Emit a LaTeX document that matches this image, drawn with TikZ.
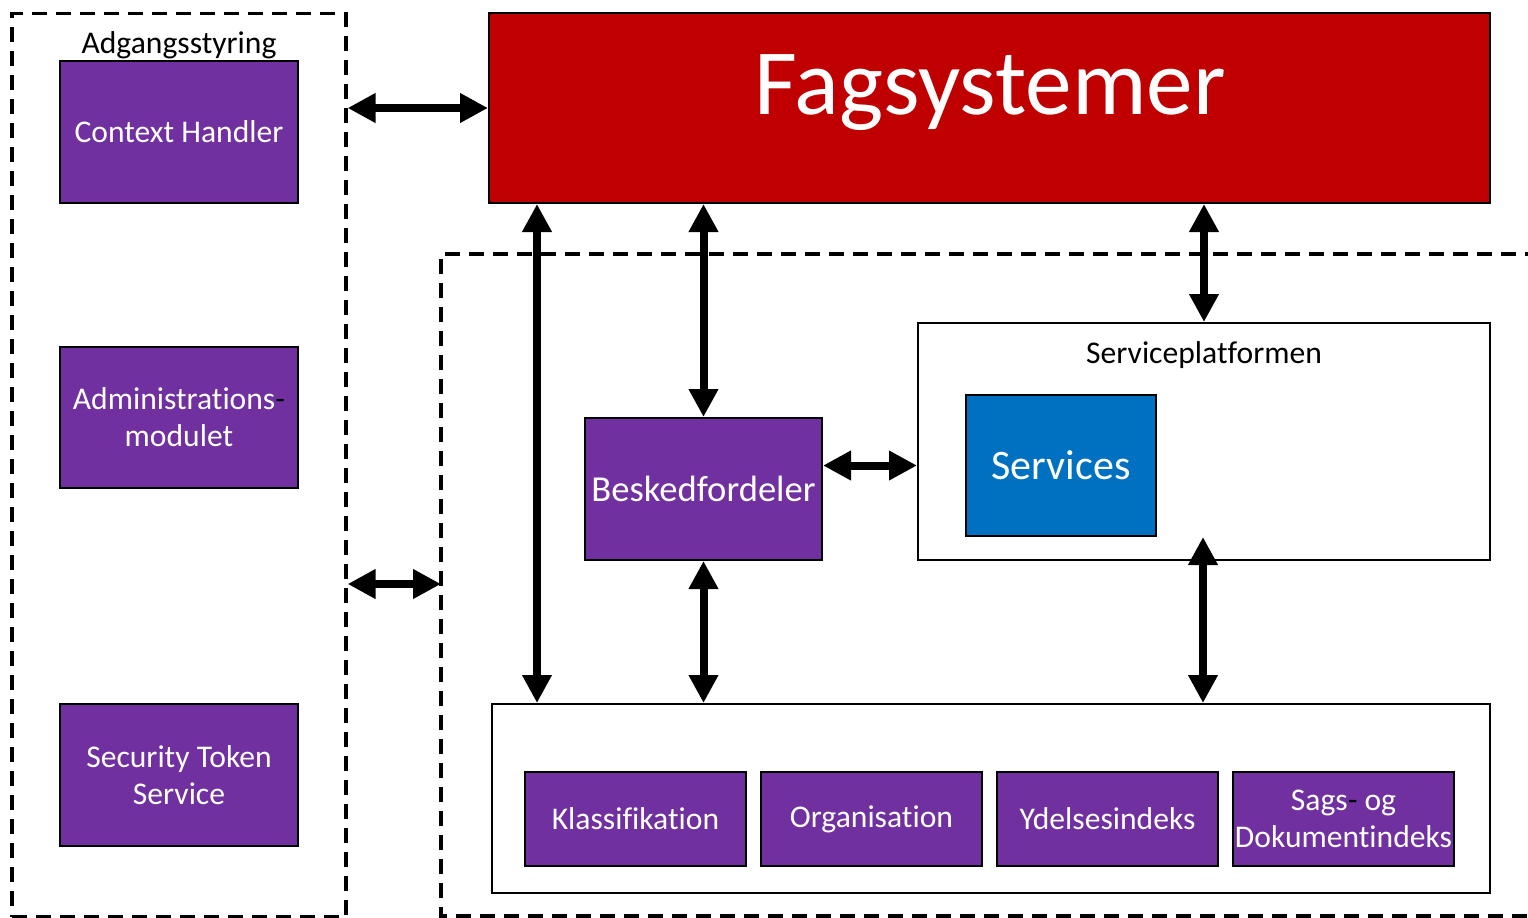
\documentclass[tikz,border=0pt]{standalone}
\usepackage{fontspec}
\setmainfont{Carlito}[Ligatures=NoCommon]
\usetikzlibrary{arrows.meta}
\definecolor{purp}{HTML}{7030A0}
\definecolor{fagred}{HTML}{C00000}
\definecolor{srvblue}{HTML}{0070C0}
\tikzset{
  pbox/.style={draw=black, line width=1pt, fill=purp, text=white, align=center, inner sep=0pt,
    font=\fontsize{15.8}{18.5}\selectfont},
  wbox/.style={draw=black, line width=1pt, fill=white, inner sep=0pt},
  dbox/.style={draw=black, line width=1.6pt, dash pattern=on 7.5pt off 4.5pt},
  dbl/.style={line width=4pt, {Triangle[length=14pt,width=14pt]}-{Triangle[length=14pt,width=14pt]}},
  lbl/.style={inner sep=0pt, font=\fontsize{15.8}{18.5}\selectfont}
}
\begin{document}
\begin{tikzpicture}[x=0.5pt,y=-0.5pt]
\useasboundingbox (0,0) rectangle (1528,917);
\clip (0,0) rectangle (1528,917);
% left dashed container
\node[dbox, minimum width=167pt, minimum height=451.5pt, inner sep=0pt] (adg) at (179,465) {};
\node[lbl] (adgl) at (179,45) {Adgangsstyring};
\node[pbox, minimum width=119pt, minimum height=71pt] (ch) at (179,132) {Context Handler};
\node[pbox, minimum width=119pt, minimum height=70.5pt] (adm) at (179,417.5) {Administrations\textcolor{black}{-}\\modulet};
\node[pbox, minimum width=119pt, minimum height=71pt] (sts) at (179,775) {Security Token\\Service};
% right dashed container (open to the right)
\coordinate (rtl) at (441,254);
\coordinate (rbl) at (441,916);
\draw[dbox] (1540,254) -- (rtl) -- (rbl) -- (1540,916);
% Fagsystemer
\node[draw=black, line width=1pt, fill=fagred, minimum width=500.5pt, minimum height=95pt, inner sep=0pt] (fag) at (989.5,108) {};
\node[text=white, inner sep=0pt, font=\fontsize{46.7}{50}\selectfont] (fagt) at (990,93) {Fagsystemer};
% Serviceplatformen
\node[wbox, minimum width=286pt, minimum height=118.5pt] (sp) at (1204,441.5) {};
\node[lbl] (spl) at (1204,355) {Serviceplatformen};
\node[draw=black, line width=1pt, fill=srvblue, text=white, inner sep=0pt, minimum width=95pt, minimum height=70.5pt, font=\fontsize{21}{24}\selectfont] (srv) at (1061,465.5) {Services};
% Beskedfordeler
\node[pbox, minimum width=118.5pt, minimum height=71pt, font=\fontsize{18.3}{21}\selectfont] (bf) at (703.5,489) {\raisebox{-2pt}{Beskedfordeler}};
% bottom container
\node[wbox, minimum width=499pt, minimum height=94.5pt] (bot) at (991,798.5) {};
\node[pbox, minimum width=110.5pt, minimum height=47pt] (kl) at (635.5,819) {\raisebox{-1pt}{Klassifikation}};
\node[pbox, minimum width=110.5pt, minimum height=47pt] (org) at (871.5,819) {\raisebox{-1pt}{Organisation}};
\node[pbox, minimum width=110.5pt, minimum height=47pt] (yd) at (1107.5,819) {\raisebox{-1pt}{Ydelsesindeks}};
\node[pbox, minimum width=110.5pt, minimum height=47pt] (sd) at (1343.5,819) {Sags\textcolor{black}{-} og\\Dokumentindeks};
% connectors
\draw[dbl] (adg.east |- fag.west) -- (fag.west);
\coordinate (mid) at (441,584);
\draw[dbl] (mid -| adg.east) -- (mid);
\coordinate (a1) at (537,0);
\draw[dbl] (a1 |- fag.south) -- (a1 |- bot.north);
\draw[dbl] (bf.north |- fag.south) -- (bf.north);
\draw[dbl] (sp.north |- fag.south) -- (sp.north);
\draw[dbl] (bf.east |- srv.west) -- (sp.west |- srv.west);
\draw[dbl] (bf.south) -- (bf.south |- bot.north);
\coordinate (sptip) at (1203,537);
\draw[dbl] (sptip) -- (sptip |- bot.north);
\end{tikzpicture}
\end{document}
